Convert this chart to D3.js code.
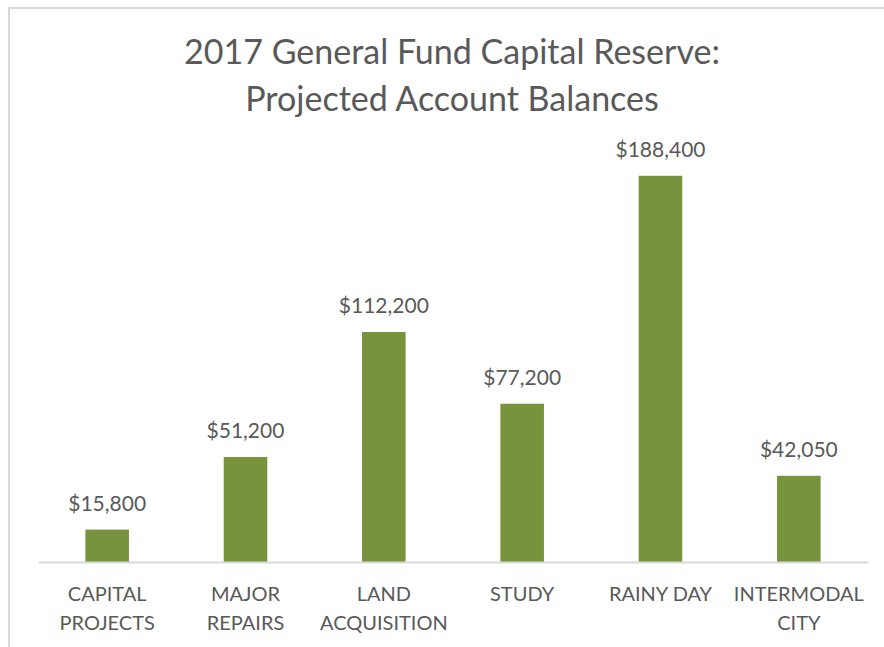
<!DOCTYPE html>
<html><head><meta charset="utf-8">
<script src="https://cdn.jsdelivr.net/npm/d3@7"></script>
<style>body{margin:0;background:#fff}svg{display:block}</style>
</head><body>
<svg id="c" width="884" height="647"></svg>
<script>
const categories = [["CAPITAL","PROJECTS"],["MAJOR","REPAIRS"],["LAND","ACQUISITION"],["STUDY"],["RAINY DAY"],["INTERMODAL","CITY"]];
const values = [15800, 51200, 112200, 77200, 188400, 42050];
const titleLines = ["2017 General Fund Capital Reserve:", "Projected Account Balances"];

const svg = d3.select("#c");
const font = "Lato, 'Open Sans', sans-serif";
const txt = "#595959";
svg.append("rect").attr("x",9).attr("y",8).attr("width",900).attr("height",700)
  .attr("fill","#fff").attr("stroke","#d9d9d9").attr("stroke-width",2);

const left=38, right=868, base=562;
const x = d3.scaleBand().domain(d3.range(categories.length)).range([left,right]).paddingInner(0.685).paddingOuter(0.3425);
const y = d3.scaleLinear().domain([0,200000]).range([base,152]);

svg.append("g").selectAll("text").data(titleLines).join("text")
  .attr("x",452).attr("y",(d,i)=>64+i*47).attr("text-anchor","middle")
  .attr("font-family",font).attr("font-size",34).attr("fill",txt).text(d=>d);

svg.append("g").selectAll("rect").data(values).join("rect")
  .attr("x",(d,i)=>x(i)).attr("width",x.bandwidth())
  .attr("y",d=>y(d)).attr("height",d=>base-y(d)).attr("fill","#77933C");

svg.append("g").selectAll("text").data(values).join("text")
  .attr("x",(d,i)=>x(i)+x.bandwidth()/2).attr("y",d=>y(d)-19)
  .attr("text-anchor","middle").attr("font-family",font).attr("font-size",21).attr("fill",txt)
  .text(d=>"$"+d3.format(",")(d));

const axis = d3.axisBottom(x).tickSize(0).tickFormat("");
const ag = svg.append("g").attr("transform",`translate(0,${base})`).call(axis);
ag.select(".domain").attr("stroke","#d9d9d9").attr("stroke-width",2);

const lab = svg.append("g").selectAll("text").data(categories).join("text")
  .attr("x",(d,i)=>x(i)+x.bandwidth()/2).attr("y",601)
  .attr("text-anchor","middle").attr("font-family",font).attr("font-size",20).attr("fill",txt);
lab.selectAll("tspan").data(d=>d).join("tspan")
  .attr("x",function(){return this.parentNode.getAttribute("x");})
  .attr("dy",(d,i)=>i?29:0).text(d=>d);
</script>
</body></html>
